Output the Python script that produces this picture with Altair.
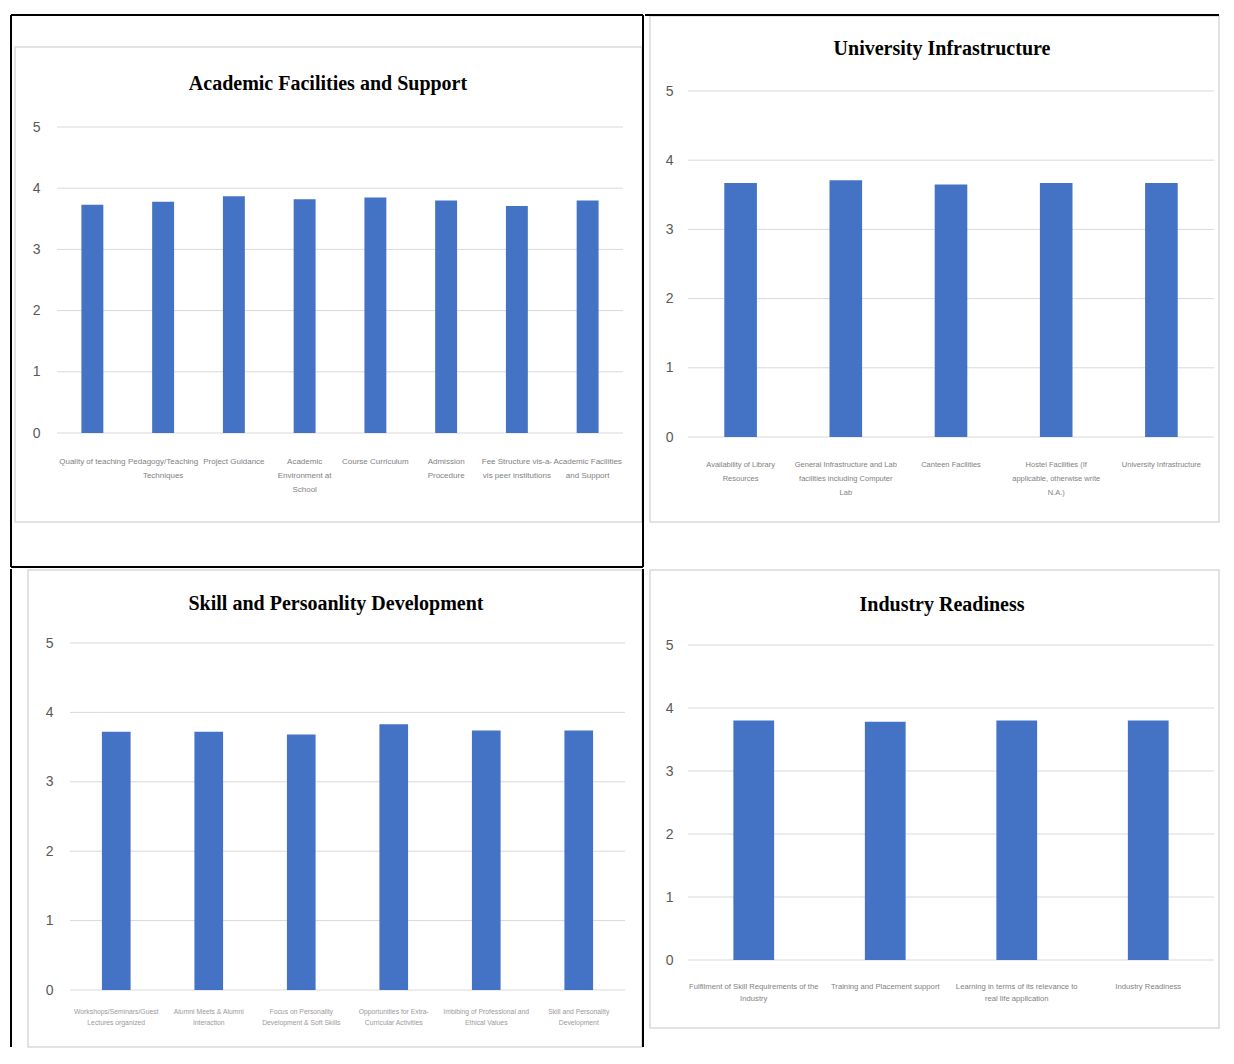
import altair as alt
import pandas as pd

# ---------------- data ----------------
p1_title = "Academic Facilities and Support"
p1_labels = ["Quality of teaching", "Pedagogy/Teaching|Techniques", "Project Guidance",
             "Academic|Environment at|School", "Course Curriculum", "Admission|Procedure",
             "Fee Structure vis-a-|vis peer institutions", "Academic Facilities|and Support"]
p1_values = [3.73, 3.78, 3.87, 3.82, 3.85, 3.80, 3.71, 3.80]

p2_title = "University Infrastructure"
p2_labels = ["Availability of Library|Resources",
             "General Infrastructure and Lab|facilities including Computer|Lab",
             "Canteen Facilities",
             "Hostel Facilities (If|applicable, otherwise write|N.A.)",
             "University Infrastructure"]
p2_values = [3.67, 3.71, 3.65, 3.67, 3.67]

p3_title = "Skill and Persoanlity Development"
p3_labels = ["Workshops/Seminars/Guest|Lectures organized", "Alumni Meets & Alumni|Interaction",
             "Focus on Personality|Development & Soft Skills", "Opportunities for Extra-|Curricular Activities",
             "Imbibing of Professional and|Ethical Values", "Skill and Personality|Development"]
p3_values = [3.72, 3.72, 3.68, 3.83, 3.74, 3.74]

p4_title = "Industry Readiness"
p4_labels = ["Fulfilment of Skill Requirements of the|Industry", "Training and Placement support",
             "Learning in terms of its relevance to|real life application", "Industry Readiness"]
p4_values = [3.80, 3.78, 3.80, 3.80]

y_ticks = [0, 1, 2, 3, 4, 5]

BAR = "#4472C4"
GRID = "#d9d9d9"
YLAB = "#595959"
TITLE_FONT = "Liberation Serif"
SMALL_FONT = "Liberation Sans"

# page-coordinate layout of each cell (decoration / placement only)
layouts = [
    dict(cell=(10, 14, 644, 568), plot=(57, 127, 623, 433), frame=(15, 47, 642, 522), title=(328, 84),
         lines=[(11, 15, 643, 15), (11, 15, 11, 567), (643, 15, 643, 567), (11, 567, 643, 567)],
         ylpad=17, xlpad=24, xfs=8, xlh=14, xcol="#7f7f7f"),
    dict(cell=(644, 14, 1220, 568), plot=(688, 91, 1214, 437), frame=(650, 16, 1219, 522), title=(942, 49),
         lines=[(645, 15, 1219, 15)],
         ylpad=15, xlpad=23, xfs=7.5, xlh=14, xcol="#7f7f7f"),
    dict(cell=(10, 568, 644, 1048), plot=(70, 643, 625, 990), frame=(28, 570, 642, 1047), title=(336, 604),
         lines=[(11, 569, 11, 1047), (643, 569, 643, 1047)],
         ylpad=17, xlpad=18, xfs=6.8, xlh=11, xcol="#9a9a9a"),
    dict(cell=(644, 568, 1220, 1048), plot=(688, 645, 1214, 960), frame=(650, 570, 1219, 1028), title=(942, 605),
         lines=[],
         ylpad=15, xlpad=22, xfs=7.7, xlh=12, xcol="#7f7f7f"),
]

one = pd.DataFrame({"k": [0]})


def panel(title, labels, values, L):
    cx1, cy1, cx2, cy2 = L["cell"]
    px1, py1, px2, py2 = L["plot"]
    W, H = cx2 - cx1, cy2 - cy1

    def rx(x):
        return x - cx1

    def ry(y):
        return y - cy1

    layers = []
    fx1, fy1, fx2, fy2 = L["frame"]
    layers.append(alt.Chart(one).mark_rect(fill="white", fillOpacity=0, stroke=GRID, strokeWidth=1.5).encode(
        x=alt.value(rx(fx1)), x2=alt.value(rx(fx2)), y=alt.value(ry(fy1)), y2=alt.value(ry(fy2))))
    for (a, b, c, d) in L["lines"]:
        layers.append(alt.Chart(one).mark_rule(color="black", strokeWidth=2).encode(
            x=alt.value(rx(a)), y=alt.value(ry(b)), x2=alt.value(rx(c)), y2=alt.value(ry(d))))
    tx, ty = L["title"]
    layers.append(alt.Chart(one).mark_text(font=TITLE_FONT, fontWeight="bold", fontSize=20,
                                           color="black", align="center", baseline="middle").encode(
        x=alt.value(rx(tx)), y=alt.value(ry(ty)), text=alt.value(title)))

    yscale = alt.Scale(domain=[0, 5], nice=False, range=[ry(py2), ry(py1)])
    # gridlines through the y scale
    grid = alt.Chart(pd.DataFrame({"value": y_ticks})).mark_rule(color=GRID, strokeWidth=1).encode(
        y=alt.Y("value:Q", scale=yscale, title=None),
        x=alt.value(rx(px1)), x2=alt.value(rx(px2)))
    layers.append(grid)

    df = pd.DataFrame({"label": labels, "value": values})
    bars = alt.Chart(df).mark_bar(color=BAR).encode(
        x=alt.X("label:N", sort=None,
                scale=alt.Scale(paddingInner=0.69, paddingOuter=0.345, range=[rx(px1), rx(px2)]),
                axis=alt.Axis(title=None, labelAngle=0, domain=False, ticks=False, tickSize=0,
                              offset=-(cy2 - py2),
                              labelPadding=L["xlpad"], labelFont=SMALL_FONT, labelFontSize=L["xfs"],
                              labelColor=L["xcol"], labelLineHeight=L["xlh"], labelLimit=0,
                              labelOverlap=False, labelBound=False,
                              labelExpr="split(datum.label, '|')")),
        y=alt.Y("value:Q", scale=yscale,
                axis=alt.Axis(title=None, values=y_ticks, format="d", domain=False, ticks=False, tickSize=0,
                              grid=False, offset=-(px1 - cx1),
                              labelPadding=L["ylpad"], labelFont=SMALL_FONT, labelFontSize=14,
                              labelColor=YLAB)),
    )
    layers.append(bars)
    return alt.layer(*layers).properties(width=W, height=H)


p1 = panel(p1_title, p1_labels, p1_values, layouts[0])
p2 = panel(p2_title, p2_labels, p2_values, layouts[1])
p3 = panel(p3_title, p3_labels, p3_values, layouts[2])
p4 = panel(p4_title, p4_labels, p4_values, layouts[3])

chart = alt.concat(p1, p2, p3, p4, columns=2, spacing=0, bounds="full",
                   padding={"left": 2, "top": 6, "right": 0, "bottom": 0}
                   ).configure(background="white").configure_view(strokeWidth=0)

chart.save("out.html", embed_options={"renderer": "svg", "actions": False})
